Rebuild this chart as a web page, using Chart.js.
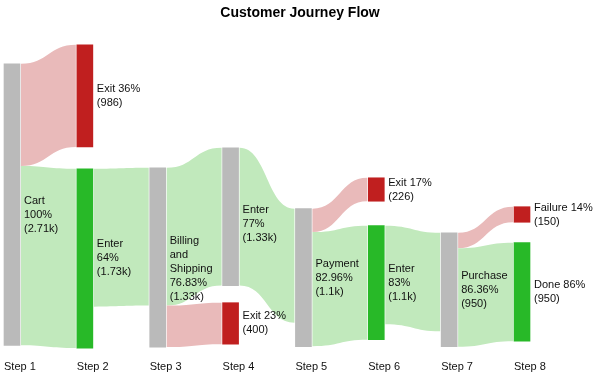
<!DOCTYPE html>
<html>
<head>
<meta charset="utf-8">
<title>Customer Journey Flow</title>
<script src="https://cdn.jsdelivr.net/npm/chart.js@4/dist/chart.umd.min.js"></script>
<style>
  html, body { margin: 0; padding: 0; background: #fff; }
  #wrap { width: 600px; height: 380px; }
</style>
</head>
<body>
<div id="wrap"><canvas id="chart"></canvas></div>
<script>
// ── Data ──────────────────────────────────────────────
const steps = ['Step 1', 'Step 2', 'Step 3', 'Step 4', 'Step 5', 'Step 6', 'Step 7', 'Step 8'];

// nodes (one per box)
const nodeNames  = ['Cart', 'Exit36', 'Enter64', 'Billing', 'Enter77', 'Exit23',
                    'Payment', 'Exit17', 'Enter83', 'Purchase', 'Failure', 'Done'];
const nodeStep   = [0, 1, 1, 2, 3, 3, 4, 5, 5, 6, 7, 7];
const nodeStart  = [183, 0, 1196, 1186, 993, 2488, 1581, 1283, 1745, 1813, 1562, 1909];
const nodeValue  = [2716, 986, 1730, 1730, 1330, 400, 1330, 226, 1100, 1100, 150, 950];
const nodeKind   = ['stage', 'exit', 'enter', 'stage', 'stage', 'exit',
                    'stage', 'exit', 'enter', 'stage', 'exit', 'enter'];
const nodeLabels = [
  ['Cart', '100%', '(2.71k)'],
  ['Exit 36%', '(986)'],
  ['Enter', '64%', '(1.73k)'],
  ['Billing', 'and', 'Shipping', '76.83%', '(1.33k)'],
  ['Enter', '77%', '(1.33k)'],
  ['Exit 23%', '(400)'],
  ['Payment', '82.96%', '(1.1k)'],
  ['Exit 17%', '(226)'],
  ['Enter', '83%', '(1.1k)'],
  ['Purchase', '86.36%', '(950)'],
  ['Failure 14%', '(150)'],
  ['Done 86%', '(950)'],
];

// links: width at source side / width at target side
const linkFrom = [0, 0, 2, 3, 3, 4, 6, 6, 8, 9, 9];
const linkTo   = [1, 2, 3, 4, 5, 6, 7, 8, 9, 10, 11];
const linkOut  = [986, 1730, 1330, 1330, 400, 1330, 226, 1100, 950, 150, 950];
const linkIn   = [986, 1730, 1330, 1330, 400, 1100, 226, 1100, 950, 150, 950];
const linkKind = ['exit', 'enter', 'enter', 'enter', 'exit', 'enter', 'exit', 'enter', 'enter', 'exit', 'enter'];

// ── Style ─────────────────────────────────────────────
const NODE_COLOR = { stage: '#bababa', exit: '#c01f1f', enter: '#28b928' };
const LINK_COLOR = { exit: '#e9baba', enter: '#c1e9bc' };
const NODE_W = 16;
const FONT = '"Liberation Sans", Arial, sans-serif';
const labelNudge = { Cart: 10, Billing: 12, Enter77: 7 };

Chart.defaults.font.family = FONT;

// floating bars, one dataset per node
const datasets = nodeNames.map((name, i) => ({
  label: name,
  data: steps.map((_, s) => s === nodeStep[i] ? [nodeStart[i], nodeStart[i] + nodeValue[i]] : null),
  backgroundColor: NODE_COLOR[nodeKind[i]],
  borderWidth: 0,
  borderSkipped: false,
  barThickness: NODE_W,
  grouped: false,
  clip: false,
}));

// stack link ends inside their nodes
const outOff = [], inOff = [];
{
  const usedOut = nodeNames.map(() => 0), usedIn = nodeNames.map(() => 0);
  linkFrom.forEach((f, k) => {
    const t = linkTo[k];
    outOff.push(usedOut[f]); usedOut[f] += linkOut[k];
    inOff.push(usedIn[t]);   usedIn[t]  += linkIn[k];
  });
}

const linksPlugin = {
  id: 'sankeyLinks',
  beforeDatasetsDraw(chart) {
    const { ctx, scales: { x, y } } = chart;
    ctx.save();
    linkFrom.forEach((f, k) => {
      const t = linkTo[k];
      const x0 = x.getPixelForValue(nodeStep[f]) + NODE_W / 2 + 1;
      const x1 = x.getPixelForValue(nodeStep[t]) - NODE_W / 2 - 1;
      const s0 = nodeStart[f] + outOff[k];
      const s1 = nodeStart[t] + inOff[k];
      const y0t = y.getPixelForValue(s0), y0b = y.getPixelForValue(s0 + linkOut[k]);
      const y1t = y.getPixelForValue(s1), y1b = y.getPixelForValue(s1 + linkIn[k]);
      const xm = (x0 + x1) / 2;
      ctx.beginPath();
      ctx.moveTo(x0, y0t);
      ctx.bezierCurveTo(xm, y0t, xm, y1t, x1, y1t);
      ctx.lineTo(x1, y1b);
      ctx.bezierCurveTo(xm, y1b, xm, y0b, x0, y0b);
      ctx.closePath();
      ctx.fillStyle = LINK_COLOR[linkKind[k]];
      ctx.fill();
    });
    ctx.restore();
  },
  afterDatasetsDraw(chart) {
    const { ctx, scales: { x, y } } = chart;
    const lh = 14;
    ctx.save();
    ctx.font = '11px ' + FONT;
    ctx.fillStyle = '#111';
    ctx.textAlign = 'left';
    ctx.textBaseline = 'middle';
    nodeNames.forEach((name, i) => {
      const lines = nodeLabels[i];
      const tx = x.getPixelForValue(nodeStep[i]) + NODE_W / 2 + 4;
      const mid = (y.getPixelForValue(nodeStart[i]) + y.getPixelForValue(nodeStart[i] + nodeValue[i])) / 2
                  + (labelNudge[name] || 0);
      const top = mid - (lines.length - 1) * lh / 2;
      lines.forEach((ln, j) => ctx.fillText(ln, tx, top + j * lh));
    });
    ctx.restore();
  }
};

new Chart(document.getElementById('chart'), {
  type: 'bar',
  data: { labels: steps, datasets },
  options: {
    responsive: true,
    maintainAspectRatio: false,
    animation: false,
    layout: { padding: { left: 11, right: 11, top: 0, bottom: 7 } },
    plugins: {
      legend: { display: false },
      tooltip: { enabled: false },
      title: {
        display: true,
        text: 'Customer Journey Flow',
        color: '#000',
        font: { size: 14, weight: 'bold', family: FONT },
        padding: { top: 5, bottom: 23 }
      }
    },
    scales: {
      x: {
        type: 'category',
        offset: false,
        grid: { display: false, drawTicks: false },
        border: { display: false },
        ticks: {
          font: { size: 11 }, color: '#111',
          align: 'start', labelOffset: -NODE_W / 2,
          padding: 12, maxRotation: 0, autoSkip: false
        },
        // room on the right for the last column's labels, fixed axis height
        afterFit(scale) { scale.paddingRight = 78; scale.height = 25; }
      },
      y: { type: 'linear', reverse: true, min: 0, max: 2925, display: false }
    }
  },
  plugins: [linksPlugin]
});
</script>
</body>
</html>
